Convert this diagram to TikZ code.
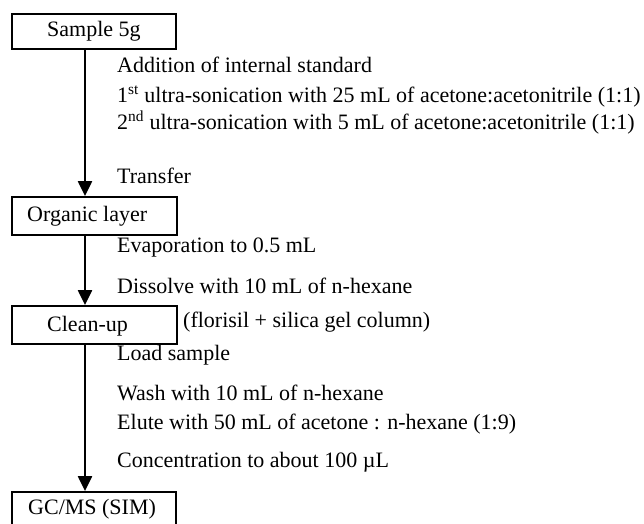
\documentclass[tikz,border=0pt]{standalone}
\usepackage{fontspec}
\setmainfont{Liberation Serif}
\usetikzlibrary{arrows.meta}
\begin{document}
\begin{tikzpicture}[x=1pt,y=-1pt,
  box/.style={draw, line width=1.8pt, minimum width=164pt, minimum height=36pt, inner sep=0pt},
  lbl/.style={anchor=mid west, inner sep=0pt, yshift=-2pt, font=\fontsize{22}{26}\selectfont},
  flow/.style={line width=2.2pt, -{Triangle[width=14pt,length=15pt]}}
]
\useasboundingbox (0,0) rectangle (644,523);
\clip (0,0) rectangle (644,523);
% boxes
\node[box, minimum height=35pt] (s) at (94,31.5) {};
\node[box, minimum width=165pt, minimum height=38pt] (o) at (94.5,216) {};
\node[box, minimum width=165pt, minimum height=38pt] (c) at (94.5,325) {};
\node[box, minimum height=40pt] (g) at (94,512) {};
% box texts
\node[lbl] (st) at (47,32) {Sample 5g};
\node[lbl] (ot) at (27,217) {Organic layer};
\node[lbl] (ct) at (47,327) {Clean-up};
\node[lbl] (gt) at (28,510) {GC/MS (SIM)};
% connectors
\coordinate (ax) at (85,0);
\draw[flow] (s.south -| ax) -- (o.north -| ax);
\draw[flow] (o.south -| ax) -- (c.north -| ax);
\draw[flow] (c.south -| ax) -- (g.north -| ax);
% side texts
\node[lbl] (t1) at (117,68) {Addition of internal standard};
\node[lbl] (t2) at (117,98) {1\textsuperscript{st} ultra-sonication with 25 mL of acetone:acetonitrile (1:1)};
\node[lbl] (t3) at (117,125) {2\textsuperscript{nd} ultra-sonication with 5 mL of acetone:acetonitrile (1:1)};
\node[lbl] (t4) at (117,179) {Transfer};
\node[lbl] (t5) at (117,248) {Evaporation to 0.5 mL};
\node[lbl] (t6) at (117,289) {Dissolve with 10 mL of n-hexane};
\node[lbl] (t7) at (183,323) {(florisil + silica gel column)};
\node[lbl] (t8) at (117,356) {Load sample};
\node[lbl] (t9) at (117,396) {Wash with 10 mL of n-hexane};
\node[lbl] (t10) at (117,425) {Elute with 50 mL of acetone : n-hexane (1:9)};
\node[lbl] (t11) at (117,463) {Concentration to about 100 µL};
\end{tikzpicture}
\end{document}
